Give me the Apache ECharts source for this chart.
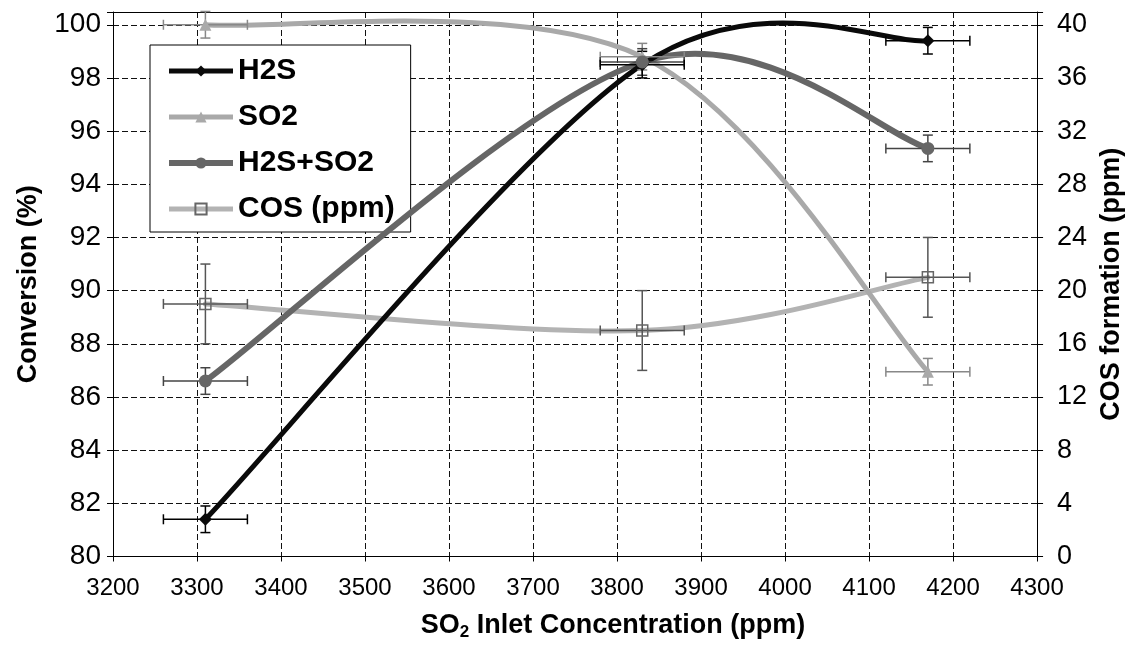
<!DOCTYPE html>
<html><head><meta charset="utf-8">
<script src="https://cdn.jsdelivr.net/npm/echarts@6/dist/echarts.min.js"></script>
<style>html,body{margin:0;padding:0;background:#fff}#c{width:1133px;height:646px}</style>
</head><body><div id="c"></div>
<script>
// ---- data ----
const xValues = [3310, 3830, 4170];           // SO2 inlet concentration (ppm)
const h2s = [81.4, 98.5, 99.4];               // conversion %
const so2 = [100.0, 98.8, 86.95];             // conversion %
const h2sSo2 = [86.6, 98.6, 95.35];           // conversion %
const cosPpm = [19, 17, 21];                  // COS formation (ppm), right axis
const xErr = [50, 50, 50];
const h2sErr = [0.5, 0.5, 0.5];
const so2Err = [0.5, 0.5, 0.5];
const h2sSo2Err = [0.5, 0.5, 0.5];
const cosErr = [3, 3, 3];
const seriesNames = ['H2S', 'SO2', 'H2S+SO2', 'COS (ppm)'];

const SANS = '"Liberation Sans", Arial, sans-serif';

function curve(name, ys, yAxisIndex, color, width, z) {
  const data = xValues.map((x, i) => [x, ys[i]]);
  return {
    type: 'custom', name: name, yAxisIndex: yAxisIndex, z: z, silent: true, clip: false,
    data: data,
    renderItem: function (params, api) {
      if (params.dataIndex !== 0) return null;
      const pts = data.map(d => api.coord(d));
      let p = 'M' + pts[0][0] + ' ' + pts[0][1];
      for (let i = 0; i < pts.length - 1; i++) {
        const p0 = pts[Math.max(i - 1, 0)], p1 = pts[i], p2 = pts[i + 1], p3 = pts[Math.min(i + 2, pts.length - 1)];
        const c1 = [p1[0] + (p2[0] - p0[0]) / 6, p1[1] + (p2[1] - p0[1]) / 6];
        const c2 = [p2[0] - (p3[0] - p1[0]) / 6, p2[1] - (p3[1] - p1[1]) / 6];
        p += ' C' + c1[0] + ' ' + c1[1] + ' ' + c2[0] + ' ' + c2[1] + ' ' + p2[0] + ' ' + p2[1];
      }
      return { type: 'path', shape: { pathData: p }, style: { fill: 'none', stroke: color, lineWidth: width, lineCap: 'round', lineJoin: 'round' } };
    }
  };
}

function errBars(name, ys, errs, yAxisIndex, color, z) {
  return {
    type: 'custom', name: name, yAxisIndex: yAxisIndex, z: z, silent: true, clip: false,
    data: xValues.map((x, i) => [x, ys[i]]),
    renderItem: function (params, api) {
      const i = params.dataIndex;
      const x = api.value(0), y = api.value(1);
      const l = api.coord([x - xErr[i], y]), r = api.coord([x + xErr[i], y]);
      const t = api.coord([x, y + errs[i]]), b = api.coord([x, y - errs[i]]);
      const cap = 5;
      const st = { stroke: color, lineWidth: 1.5 };
      const ln = (x1, y1, x2, y2) => ({ type: 'line', shape: { x1, y1, x2, y2 }, style: st });
      return { type: 'group', children: [
        ln(l[0], l[1], r[0], r[1]),
        ln(l[0], l[1] - cap, l[0], l[1] + cap),
        ln(r[0], r[1] - cap, r[0], r[1] + cap),
        ln(t[0], t[1], b[0], b[1]),
        ln(t[0] - cap, t[1], t[0] + cap, t[1]),
        ln(b[0] - cap, b[1], b[0] + cap, b[1])
      ] };
    }
  };
}

function markers(name, ys, yAxisIndex, symbol, size, itemStyle, z) {
  return {
    type: 'line', name: name, yAxisIndex: yAxisIndex, z: z,
    data: xValues.map((x, i) => [x, ys[i]]),
    symbol: symbol, symbolSize: size, showSymbol: true,
    lineStyle: { opacity: 0, width: 0 },
    itemStyle: itemStyle,
    emphasis: { disabled: true },
    animation: false
  };
}

const colors = { h2s: '#0a0a0a', so2: '#a9a9a9', mix: '#666666', cos: '#b3b3b3' };
const intLabel = v => (Math.abs(v - Math.round(v)) < 1e-6 ? String(Math.round(v)) : '');

const chart = echarts.init(document.getElementById('c'), null, { renderer: 'canvas' });
chart.setOption({
  animation: false,
  backgroundColor: '#fff',
  grid: { left: 113, right: 91, top: 12, bottom: 86 },
  legend: {
    orient: 'vertical', left: 150, top: 45,
    padding: [11, 16, 8, 16],
    itemWidth: 64, itemHeight: 14, itemGap: 16,
    backgroundColor: '#fff', borderColor: '#000', borderWidth: 1,
    textStyle: { fontFamily: SANS, fontWeight: 'bold', fontSize: 30, color: '#000', lineHeight: 30 },
    data: [
      { name: seriesNames[0], lineStyle: { opacity: 1, width: 5, color: colors.h2s } },
      { name: seriesNames[1], lineStyle: { opacity: 1, width: 5, color: colors.so2 } },
      { name: seriesNames[2], lineStyle: { opacity: 1, width: 6, color: colors.mix } },
      { name: seriesNames[3], lineStyle: { opacity: 1, width: 5, color: colors.cos } }
    ]
  },
  xAxis: [{
    type: 'value', min: 3200, max: 4300, interval: 100,
    name: '{a|SO}{s|2}{a| Inlet Concentration (ppm)}',
    nameLocation: 'middle', nameGap: 54,
    nameTextStyle: { padding: [0, 0, 0, 76], rich: {
      a: { fontFamily: SANS, fontWeight: 'bold', fontSize: 27, color: '#000', lineHeight: 30 },
      s: { fontFamily: SANS, fontWeight: 'bold', fontSize: 17, color: '#000', lineHeight: 30, padding: [14, 0, 0, 0] }
    } },
    axisLine: { lineStyle: { color: '#000', width: 1 } },
    axisTick: { show: true, length: 5, lineStyle: { color: '#000' } },
    axisLabel: { fontFamily: SANS, fontSize: 24, color: '#000', margin: 20, formatter: v => String(v) },
    splitLine: { show: true, lineStyle: { color: '#111', width: 1, type: [6, 3] } }
  }, {
    type: 'value', min: 3200, max: 4300, position: 'top',
    axisLine: { show: true, onZero: false, lineStyle: { color: '#000', width: 1 } },
    axisTick: { show: false }, axisLabel: { show: false }, splitLine: { show: false }
  }],
  yAxis: [{
    type: 'value', min: 80, max: 100.48, interval: 2,
    name: 'Conversion (%)', nameLocation: 'middle', nameGap: 71,
    nameTextStyle: { fontFamily: SANS, fontWeight: 'bold', fontSize: 27, color: '#000' },
    axisLine: { show: true, lineStyle: { color: '#000', width: 1 } },
    axisTick: { show: true, length: 6, lineStyle: { color: '#000' } },
    axisLabel: { fontFamily: SANS, fontSize: 28, color: '#000', margin: 12, formatter: intLabel },
    splitLine: { show: true, lineStyle: { color: '#111', width: 1, type: [6, 3] } }
  }, {
    type: 'value', min: 0, max: 40.96, interval: 4, position: 'right',
    name: 'COS formation (ppm)', nameLocation: 'middle', nameGap: 56,
    nameTextStyle: { fontFamily: SANS, fontWeight: 'bold', fontSize: 27, color: '#000' },
    axisLine: { show: true, lineStyle: { color: '#000', width: 1 } },
    axisTick: { show: true, length: 6, lineStyle: { color: '#000' } },
    axisLabel: { fontFamily: SANS, fontSize: 27, color: '#000', margin: 20, formatter: intLabel },
    splitLine: { show: false }
  }],
  series: [
    curve('cos-curve', cosPpm, 1, colors.cos, 5, 2),
    curve('so2-curve', so2, 0, colors.so2, 5, 3),
    curve('mix-curve', h2sSo2, 0, colors.mix, 6, 4),
    curve('h2s-curve', h2s, 0, colors.h2s, 5, 5),
    errBars('cos-err', cosPpm, cosErr, 1, '#555', 6),
    errBars('so2-err', so2, so2Err, 0, '#888', 6),
    errBars('mix-err', h2sSo2, h2sSo2Err, 0, '#444', 6),
    errBars('h2s-err', h2s, h2sErr, 0, '#000', 6),
    markers(seriesNames[0], h2s, 0, 'diamond', 13, { color: colors.h2s }, 8),
    markers(seriesNames[1], so2, 0, 'triangle', 12, { color: colors.so2 }, 8),
    markers(seriesNames[2], h2sSo2, 0, 'circle', 13, { color: colors.mix }, 8),
    markers(seriesNames[3], cosPpm, 1, 'rect', 11, { color: 'rgba(255,255,255,0)', borderColor: '#666', borderWidth: 1.5 }, 8)
  ]
});
</script>
</body></html>
